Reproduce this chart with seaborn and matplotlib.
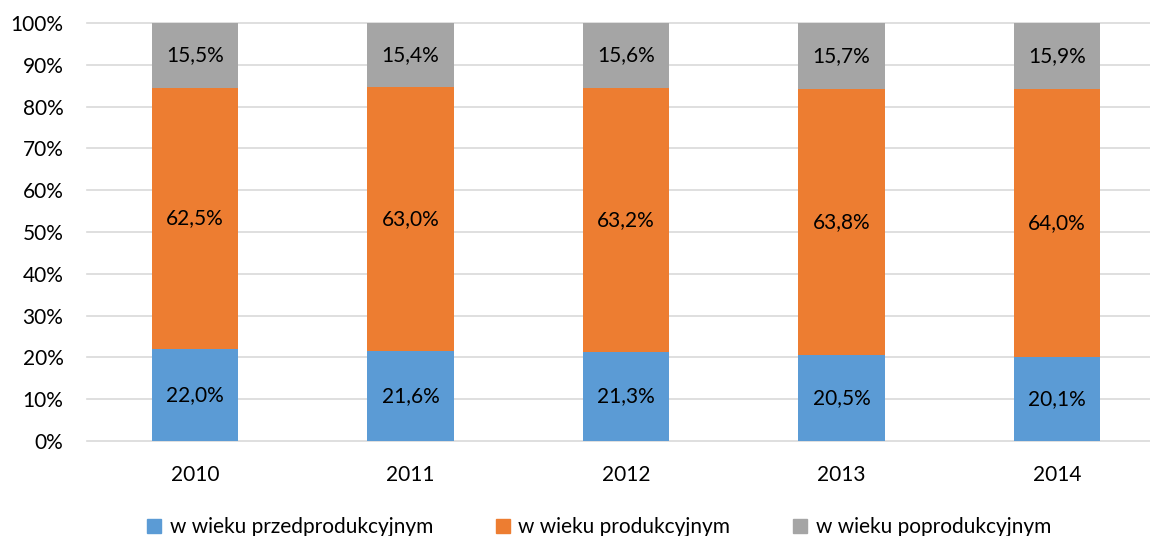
import pandas as pd
import seaborn as sns
import matplotlib.pyplot as plt
from matplotlib.lines import Line2D

years = ["2010", "2011", "2012", "2013", "2014"]
przed = [22.0, 21.6, 21.3, 20.5, 20.1]
prod = [62.5, 63.0, 63.2, 63.8, 64.0]
poprod = [15.5, 15.4, 15.6, 15.7, 15.9]
series_names = ["w wieku przedprodukcyjnym", "w wieku produkcyjnym", "w wieku poprodukcyjnym"]
colors = ["#5B9BD5", "#ED7D31", "#A5A5A5"]

plt.rcParams["font.family"] = ["Lato", "DejaVu Sans"]
FS = 15

df = pd.DataFrame({"rok": years, "przed": przed, "prod": prod, "poprod": poprod})
total = df["przed"] + df["prod"] + df["poprod"]
df["c1"] = df["przed"] / total * 100
df["c2"] = (df["przed"] + df["prod"]) / total * 100
df["c3"] = 100.0

fig = plt.figure(figsize=(11.5, 5.36), dpi=100)
ax = fig.add_axes([87 / 1150, 95 / 536, 1078 / 1150, 418 / 536])

# stacked bars drawn as overlapping cumulative bars
for col, c in zip(["c3", "c2", "c1"], colors[::-1]):
    sns.barplot(data=df, x="rok", y=col, color=c, width=0.4, ax=ax,
                saturation=1, errorbar=None, zorder=3)

for i in range(len(years)):
    bottoms = [0, df["c1"][i], df["c2"][i]]
    tops = [df["c1"][i], df["c2"][i], 100]
    vals = [przed[i], prod[i], poprod[i]]
    for b, t, v in zip(bottoms, tops, vals):
        ax.text(i, (b + t) / 2, f"{v:.1f}%".replace(".", ","), ha="center",
                va="center", fontsize=FS, color="#000000", zorder=4)

ax.set_ylim(0, 100)
ax.set_xlim(-0.5, 4.5)
ax.set_yticks(range(0, 101, 10))
ax.set_yticklabels([f"{t}%" for t in range(0, 101, 10)])
ax.set_xlabel("")
ax.set_ylabel("")
ax.grid(axis="y", color="#D9D9D9", linewidth=1.2, zorder=0)
for gl in ax.get_ygridlines():
    gl.set_clip_on(False)
ax.set_axisbelow(True)
for s in ax.spines.values():
    s.set_visible(False)
ax.tick_params(axis="both", length=0, labelsize=FS, colors="#000000")
ax.tick_params(axis="y", pad=17)
ax.tick_params(axis="x", pad=17)

handles = [Line2D([0], [0], marker="s", linestyle="", markersize=9.5,
                  markerfacecolor=c, markeredgecolor=c) for c in colors]
fig.legend(handles, series_names, loc="lower center", bbox_to_anchor=(0.52, -0.037),
           ncol=3, frameon=False, fontsize=FS, handletextpad=0.3,
           columnspacing=2.9, handlelength=0.9)

plt.savefig("out.png", dpi=100)
